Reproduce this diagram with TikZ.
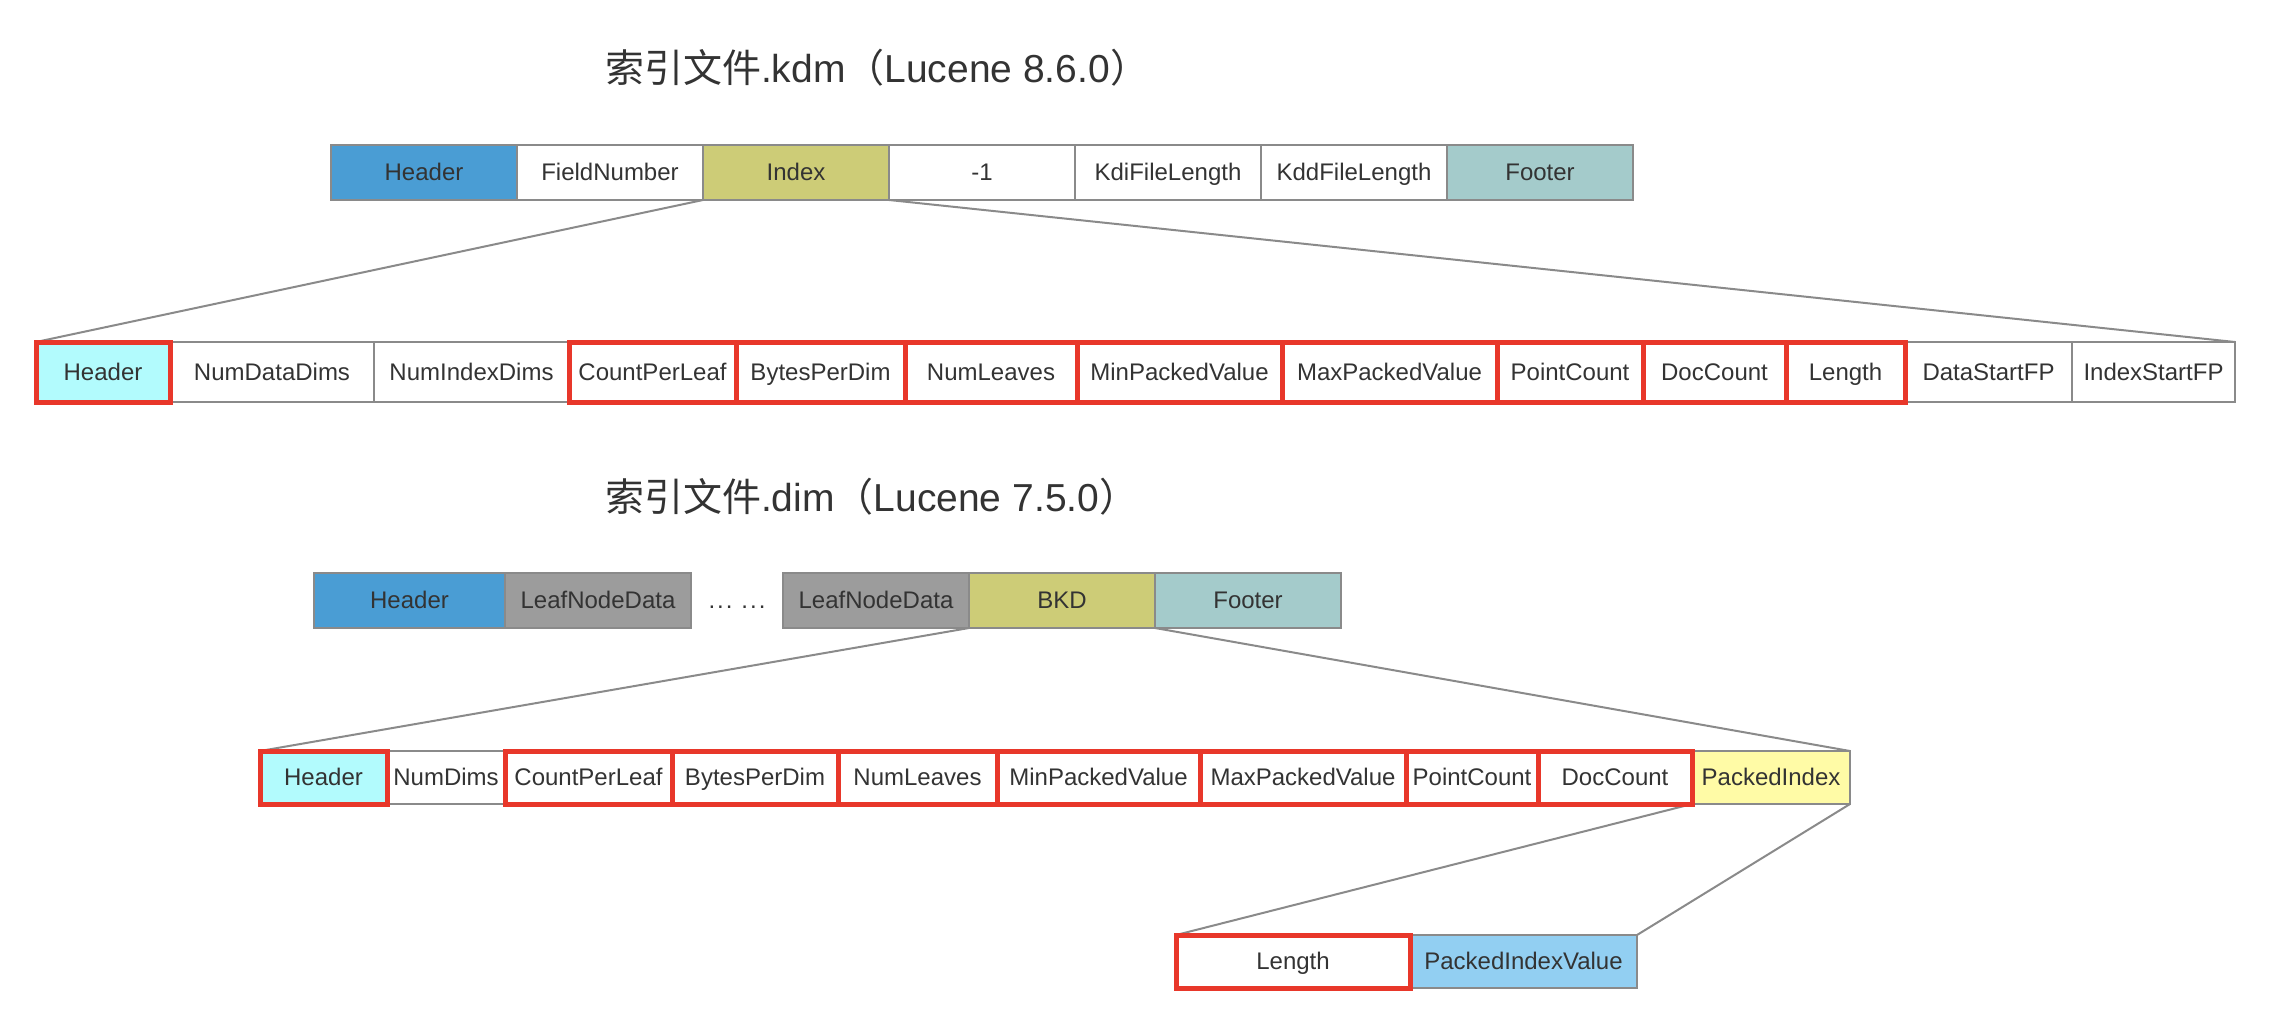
\documentclass[tikz,border=0pt]{standalone}
\usepackage{fontspec}
\setmainfont{Liberation Sans}
\newfontfamily\cjk{Noto Sans CJK SC}
\usetikzlibrary{positioning}
\definecolor{hdrblue}{HTML}{4A9DD4}
\definecolor{idxolive}{HTML}{CDCC77}
\definecolor{footteal}{HTML}{A4CBCB}
\definecolor{leafgray}{HTML}{9C9C9C}
\definecolor{hdrcyan}{HTML}{B2FBFD}
\definecolor{pkyellow}{HTML}{FFFBA6}
\definecolor{pkblue}{HTML}{92CFF2}
\definecolor{redline}{HTML}{E8372A}
\definecolor{boxgray}{HTML}{8A8A8A}
\definecolor{txtgray}{HTML}{333333}

\begin{document}
\begin{tikzpicture}[x=0.5pt,y=-0.5pt,
    celltext/.style={text=txtgray,font=\fontsize{12}{14}\selectfont,
      text height=9.6pt,text depth=1.4pt},
    cell/.style={celltext,draw=boxgray,line width=1pt,inner sep=0pt,outer sep=0pt},
    rowa/.style={cell,minimum height=27.5pt,minimum width=93pt},
    rowb/.style={cell,minimum height=30pt,minimum width=#1pt},
    rowc/.style={cell,minimum height=27.5pt,minimum width=93pt},
    rowd/.style={cell,minimum height=26.5pt,minimum width=#1pt},
    rowe/.style={cell,minimum height=26.5pt,minimum width=#1pt},
    redframe/.style={draw=redline,line width=2.5pt},
    link/.style={draw=boxgray,line width=1pt},
    title/.style={anchor=west,text=txtgray,font=\fontsize{19.5}{23}\selectfont}]
  \useasboundingbox (0,0) rectangle (2294,1022);

  %%%%% kdm %%%%%
  \node[title] (kdmtitle) at (598,68) {{\cjk 索引文件}.kdm{\cjk （}Lucene 8.6.0{\cjk ）}};

  \node[rowa,fill=hdrblue,anchor=west] (kHeader) at (331,172.5) {Header};
  \node[rowa,right=0pt of kHeader] (kField) {FieldNumber};
  \node[rowa,fill=idxolive,right=0pt of kField] (kIndex) {Index};
  \node[rowa,right=0pt of kIndex] (kMinus) {-1};
  \node[rowa,right=0pt of kMinus] (kKdi) {KdiFileLength};
  \node[rowa,right=0pt of kKdi] (kKdd) {KddFileLength};
  \node[rowa,fill=footteal,right=0pt of kKdd] (kFooter) {Footer};

  \node[rowb=67,fill=hdrcyan,anchor=west] (iHeader) at (36,372) {Header};
  \node[rowb=102,right=0pt of iHeader] (iDataDims) {NumDataDims};
  \node[rowb=97.5,right=0pt of iDataDims] (iIndexDims) {NumIndexDims};
  \node[rowb=83.5,right=0pt of iIndexDims] (iCount) {CountPerLeaf};
  \node[rowb=84.5,right=0pt of iCount] (iBytes) {BytesPerDim};
  \node[rowb=86,right=0pt of iBytes] (iLeaves) {NumLeaves};
  \node[rowb=102.5,right=0pt of iLeaves] (iMin) {MinPackedValue};
  \node[rowb=107.5,right=0pt of iMin] (iMax) {MaxPackedValue};
  \node[rowb=73,right=0pt of iMax] (iPoint) {PointCount};
  \node[rowb=71.5,right=0pt of iPoint] (iDoc) {DocCount};
  \node[rowb=59.5,right=0pt of iDoc] (iLength) {Length};
  \node[rowb=83.5,right=0pt of iLength] (iDataFP) {DataStartFP};
  \node[rowb=81.5,right=0pt of iDataFP] (iIndexFP) {IndexStartFP};

  \draw[link] (kIndex.south west) -- (iHeader.north west);
  \draw[link] (kIndex.south east) -- (iIndexFP.north east);

  %%%%% dim %%%%%
  \node[title] (dimtitle) at (598,497) {{\cjk 索引文件}.dim{\cjk （}Lucene 7.5.0{\cjk ）}};

  \node[rowc,minimum width=95.5pt,fill=hdrblue,anchor=west] (dHeader) at (314,600.5) {Header};
  \node[rowc,fill=leafgray,right=0pt of dHeader] (dLeafA) {LeafNodeData};
  \node[celltext] (dDots) at (737,600.5) {.\kern1pt.\kern1pt. .\kern1pt.\kern1pt.};
  \node[rowc,fill=leafgray,anchor=west] (dLeafB) at (783,600.5) {LeafNodeData};
  \node[rowc,fill=idxolive,right=0pt of dLeafB] (dBKD) {BKD};
  \node[rowc,fill=footteal,right=0pt of dBKD] (dFooter) {Footer};

  \node[rowd=63.5,fill=hdrcyan,anchor=west] (bHeader) at (260,777.5) {Header};
  \node[rowd=59,right=0pt of bHeader] (bDims) {NumDims};
  \node[rowd=83.5,right=0pt of bDims] (bCount) {CountPerLeaf};
  \node[rowd=83,right=0pt of bCount] (bBytes) {BytesPerDim};
  \node[rowd=79.5,right=0pt of bBytes] (bLeaves) {NumLeaves};
  \node[rowd=101.5,right=0pt of bLeaves] (bMin) {MinPackedValue};
  \node[rowd=103,right=0pt of bMin] (bMax) {MaxPackedValue};
  \node[rowd=66,right=0pt of bMax] (bPoint) {PointCount};
  \node[rowd=77,right=0pt of bPoint] (bDoc) {DocCount};
  \node[rowd=79,fill=pkyellow,right=0pt of bDoc] (bPacked) {PackedIndex};

  \node[rowe=117,anchor=west] (pLength) at (1176,961.5) {Length};
  \node[rowe=113.5,fill=pkblue,right=0pt of pLength] (pValue) {PackedIndexValue};

  \draw[link] (dBKD.south west) -- (bHeader.north west);
  \draw[link] (dBKD.south east) -- (bPacked.north east);
  \draw[link] (bPacked.south west) -- (pLength.north west);
  \draw[link] (bPacked.south east) -- (pValue.north east);

  % red frames on top
  \foreach \n in {iHeader,iCount,iBytes,iLeaves,iMin,iMax,iPoint,iDoc,iLength,
                  bHeader,bCount,bBytes,bLeaves,bMin,bMax,bPoint,bDoc,pLength}
    \draw[redframe] (\n.north west) rectangle (\n.south east);
\end{tikzpicture}
\end{document}
